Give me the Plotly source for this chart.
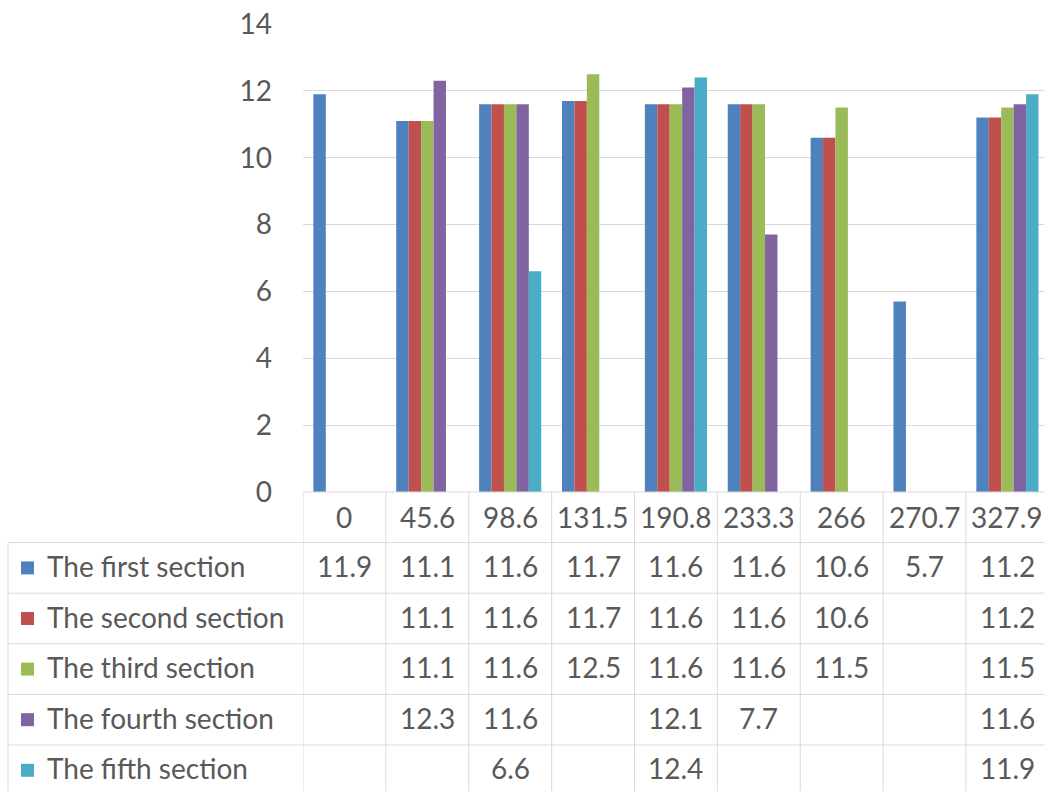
import plotly.graph_objects as go

# ---- data ----
categories = ["0", "45.6", "98.6", "131.5", "190.8", "233.3", "266", "270.7", "327.9"]
series_names = ["The first section", "The second section", "The third section",
                "The fourth section", "The fifth section"]
first_section = [11.9, 11.1, 11.6, 11.7, 11.6, 11.6, 10.6, 5.7, 11.2]
second_section = [None, 11.1, 11.6, 11.7, 11.6, 11.6, 10.6, None, 11.2]
third_section = [None, 11.1, 11.6, 12.5, 11.6, 11.6, 11.5, None, 11.5]
fourth_section = [None, 12.3, 11.6, None, 12.1, 7.7, None, None, 11.6]
fifth_section = [None, None, 6.6, None, 12.4, None, None, None, 11.9]
y_ticks = [0, 2, 4, 6, 8, 10, 12, 14]

series_values = [first_section, second_section, third_section, fourth_section, fifth_section]
colors = ["#4F81BD", "#C0504D", "#9BBB59", "#8064A2", "#4BACC6"]

# ---- geometry (pixels) ----
W, H = 1044, 791
plot_left, plot_top, plot_bottom = 303, 24, 492
cat_w = 82.875
row_h = 50.6
label_left = 8
text_col = "#595959"
line_col = "#D9D9D9"
FONT = "Lato, Carlito, Calibri, sans-serif"
FS = 28


def py(p):
    return 1 - p / H


fig = go.Figure()
for name, vals, col in zip(series_names, series_values, colors):
    fig.add_trace(go.Bar(x=list(range(len(categories))), y=vals, name=name,
                         marker=dict(color=col, line=dict(width=0))))

fig.update_layout(
    width=W, height=H, margin=dict(l=0, r=0, t=0, b=0),
    paper_bgcolor="white", plot_bgcolor="white",
    barmode="group", bargap=0.25, bargroupgap=0, showlegend=False,
    font=dict(family=FONT, color=text_col, size=FS),
)
fig.update_xaxes(domain=[plot_left / W, 1],
                 range=[-0.5, -0.5 + (W - plot_left) / cat_w],
                 showticklabels=False, showgrid=False, zeroline=False,
                 showline=False, automargin=False, fixedrange=True)
fig.update_yaxes(domain=[py(plot_bottom), py(plot_top)], range=[0, 14],
                 tickvals=y_ticks, showgrid=True, gridcolor=line_col, gridwidth=1,
                 zeroline=False, showline=False, ticks="", ticklabelstandoff=30,
                 tickfont=dict(family=FONT, size=FS, color=text_col),
                 automargin=False, fixedrange=True)

shapes = []
# horizontal table lines
shapes.append(dict(type="line", xref="paper", yref="paper",
                   x0=plot_left / W, x1=1, y0=py(plot_bottom), y1=py(plot_bottom),
                   line=dict(color=line_col, width=1)))
for k in range(1, len(series_names) + 1):
    yy = py(plot_bottom + k * row_h)
    shapes.append(dict(type="line", xref="paper", yref="paper",
                       x0=label_left / W, x1=1, y0=yy, y1=yy,
                       line=dict(color=line_col, width=1)))
# vertical lines at category boundaries
for i in range(len(categories) + 1):
    shapes.append(dict(type="line", xref="x", yref="paper",
                       x0=i - 0.5, x1=i - 0.5, y0=py(plot_bottom), y1=-0.05,
                       line=dict(color=line_col, width=1)))
# left border of label column
shapes.append(dict(type="line", xref="paper", yref="paper",
                   x0=label_left / W, x1=label_left / W,
                   y0=py(plot_bottom + row_h), y1=-0.05,
                   line=dict(color=line_col, width=1)))

annotations = []
# header row
for i, c in enumerate(categories):
    annotations.append(dict(x=i, xref="x", y=py(plot_bottom + row_h / 2), yref="paper",
                            xanchor="center", yanchor="middle",
                            text=c, showarrow=False,
                            font=dict(family=FONT, size=FS, color=text_col)))
# data rows
for r, (name, vals, col) in enumerate(zip(series_names, series_values, colors)):
    yc = plot_bottom + (r + 1.5) * row_h
    shapes.append(dict(type="rect", xref="paper", yref="paper",
                       x0=21 / W, x1=34 / W, y0=py(yc + 6.5), y1=py(yc - 6.5),
                       fillcolor=col, line=dict(width=0)))
    annotations.append(dict(x=45 / W, xref="paper", y=py(yc - 2), yref="paper",
                            xanchor="left", yanchor="middle", text=name, showarrow=False,
                            font=dict(family=FONT, size=FS, color=text_col)))
    for i, v in enumerate(vals):
        if v is None:
            continue
        annotations.append(dict(x=i, xref="x", y=py(yc - 2), yref="paper",
                                xanchor="center", yanchor="middle",
                                text=str(v), showarrow=False,
                                font=dict(family=FONT, size=FS, color=text_col)))

fig.update_layout(shapes=shapes, annotations=annotations)
fig.write_html("out.html", config={"displayModeBar": False},
               post_script="document.body.style.margin='0px';")
